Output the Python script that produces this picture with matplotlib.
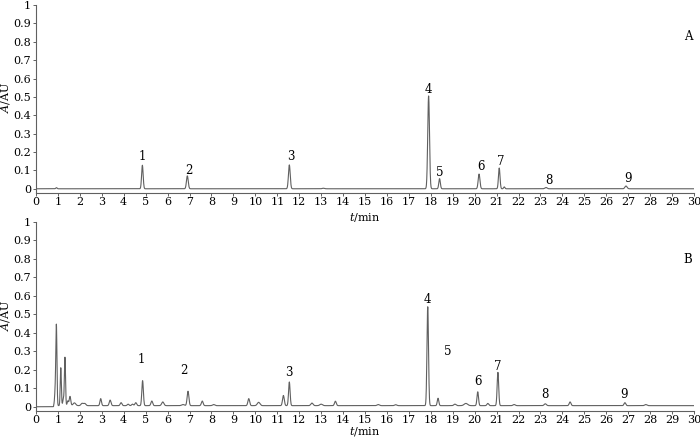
import numpy as np
import matplotlib
matplotlib.use("Agg")
import matplotlib.pyplot as plt

# ---------------- data ----------------
# Panel A: standard mixture. (retention time min, height AU, width sigma min)
a_rt     = [0.93, 4.85, 6.90, 11.55, 13.10, 17.90, 18.40, 20.20, 21.12, 21.35, 23.25, 26.90]
a_height = [0.006, 0.128, 0.070, 0.130, 0.003, 0.505, 0.055, 0.080, 0.113, 0.010, 0.007, 0.015]
a_width  = [0.03, 0.035, 0.04, 0.04, 0.05, 0.04, 0.035, 0.04, 0.035, 0.03, 0.05, 0.05]

# Panel B: sample
b_rt     = [0.88, 0.93, 1.13, 1.25, 1.32, 1.45, 1.55, 1.75, 2.10, 2.22, 2.95, 3.38, 3.88,
            4.20, 4.40, 4.55, 4.86, 5.28, 5.78, 6.70, 6.93, 7.58, 8.10, 9.70, 10.15,
            11.28, 11.55, 12.58, 13.00, 13.65, 15.60, 16.40, 17.86, 18.33, 19.10, 19.60,
            20.14, 20.60, 21.06, 21.80, 23.22, 24.35, 26.85, 27.80]
b_height = [0.085, 0.42, 0.205, 0.035, 0.26, 0.025, 0.05, 0.015, 0.012, 0.012, 0.038, 0.03, 0.016,
            0.008, 0.008, 0.016, 0.135, 0.025, 0.02, 0.006, 0.078, 0.025, 0.006, 0.038, 0.018,
            0.055, 0.128, 0.014, 0.008, 0.024, 0.006, 0.005, 0.535, 0.04, 0.008, 0.012,
            0.075, 0.012, 0.18, 0.006, 0.01, 0.02, 0.016, 0.006]
b_width  = [0.03, 0.025, 0.025, 0.03, 0.025, 0.03, 0.035, 0.06, 0.05, 0.05, 0.035, 0.04, 0.04,
            0.04, 0.04, 0.04, 0.035, 0.04, 0.05, 0.06, 0.04, 0.04, 0.05, 0.04, 0.06,
            0.04, 0.035, 0.05, 0.06, 0.04, 0.05, 0.05, 0.035, 0.035, 0.05, 0.08,
            0.035, 0.04, 0.035, 0.05, 0.05, 0.04, 0.04, 0.05]
b_base   = 0.006

# peak labels: (x, y) positions of numbers
a_lab_x = [4.83, 6.97, 11.6, 17.9, 18.42, 20.27, 21.18, 23.37, 26.97]
a_lab_y = [0.175, 0.10, 0.175, 0.54, 0.09, 0.12, 0.15, 0.045, 0.055]
b_lab_x = [4.78, 6.74, 11.53, 17.86, 18.77, 20.14, 21.05, 23.19, 26.79]
b_lab_y = [0.255, 0.196, 0.185, 0.58, 0.30, 0.136, 0.22, 0.067, 0.067]
peak_names = ["1", "2", "3", "4", "5", "6", "7", "8", "9"]

x_ticks = list(range(0, 31))
y_ticks = [0, 0.1, 0.2, 0.3, 0.4, 0.5, 0.6, 0.7, 0.8, 0.9, 1]
y_tick_labels = ["0", "0.1", "0.2", "0.3", "0.4", "0.5", "0.6", "0.7", "0.8", "0.9", "1"]

# ---------------- build traces ----------------
t = np.linspace(0, 30, 6001)

def trace(rts, hs, ws, base=0.0, start=0.8):
    y = np.zeros_like(t)
    for r, h, w in zip(rts, hs, ws):
        y += h * np.exp(-0.5 * ((t - r) / w) ** 2)
    y += base * (t > start)
    return y

ya = trace(a_rt, a_height, a_width)
yb = trace(b_rt, b_height, b_width, base=b_base)

plt.rcParams['font.family'] = ['DejaVu Serif']
plt.rcParams['mathtext.fontset'] = 'dejavuserif'

fig = plt.figure(figsize=(7.0, 4.38), dpi=100)
W, H = 700.0, 438.0
ax_a = fig.add_axes([36 / W, 1 - 193 / H, (694 - 36) / W, (193 - 5) / H])
ax_b = fig.add_axes([36 / W, 1 - 411 / H, (694 - 36) / W, (411 - 222) / H])

col = "#606060"
panels = [(ax_a, ya, a_lab_x, a_lab_y, "A", 0.835, 217),
          (ax_b, yb, b_lab_x, b_lab_y, "B", 0.799, 432)]
for ax, y, lx, ly, letter, ly_letter, xlab_px in panels:
    ax.plot(t, y, color=col, lw=0.8)
    ax.set_xlim(0, 30)
    ax.set_ylim(-0.023, 1.0)
    ax.set_xticks(x_ticks)
    ax.set_xticklabels([str(v) for v in x_ticks])
    ax.set_yticks(y_ticks)
    ax.set_yticklabels(y_tick_labels)
    for s in ["top", "right"]:
        ax.spines[s].set_visible(False)
    for s in ["left", "bottom"]:
        ax.spines[s].set_color(col)
        ax.spines[s].set_linewidth(0.8)
    ax.tick_params(axis="both", direction="out", length=2.5, width=0.7, color=col,
                   labelsize=8)
    ax.tick_params(axis="x", pad=0.5)
    ax.tick_params(axis="y", pad=1.0)
    ax.set_ylabel(r"$\it{A}$/AU", fontsize=8, va="center")
    ax.yaxis.set_label_coords(-0.046, 0.508)
    # x label: place its centre at a given pixel row
    ax.set_xlabel(r"$\it{t}$/min", fontsize=8, va="center")
    bbox = ax.get_position()
    ax_bottom_px = (1 - bbox.y0) * H
    ax_h_px = bbox.height * H
    ax.xaxis.set_label_coords(0.5, -(xlab_px - ax_bottom_px) / ax_h_px)
    for name, xx, yy in zip(peak_names, lx, ly):
        ax.text(xx, yy, name, ha="center", va="center", fontsize=8.5)
    ax.text(0.991, ly_letter, letter, transform=ax.transAxes,
            ha="center", va="center", fontsize=8.5)

fig.savefig("out.png", dpi=100)
